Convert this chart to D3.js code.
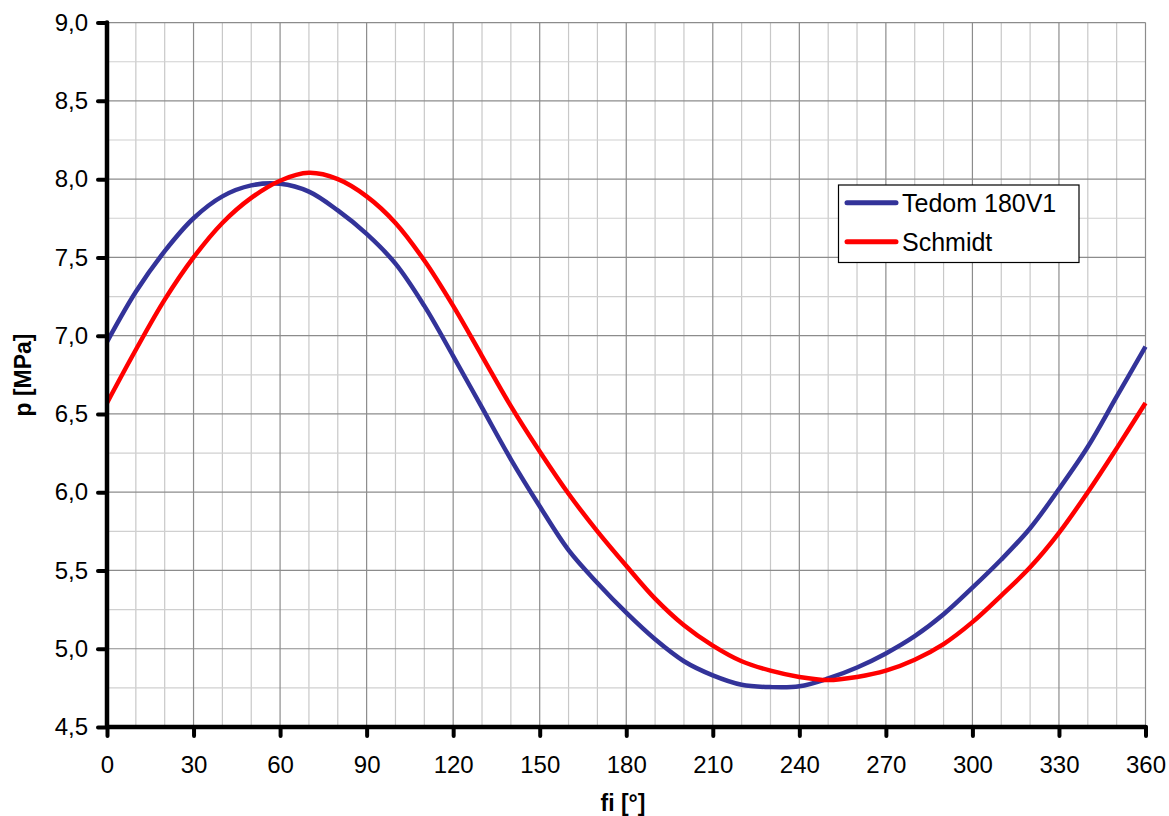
<!DOCTYPE html>
<html>
<head>
<meta charset="utf-8">
<script src="https://cdn.jsdelivr.net/npm/d3@7/dist/d3.min.js"></script>
<style>
  html, body { margin: 0; padding: 0; background: #fff; }
  svg { display: block; font-family: Arial, "Liberation Sans", sans-serif; }
</style>
</head>
<body>
<svg id="chart" width="1169" height="816"></svg>
<script>
// Crank angle samples [deg]
const angles = [0, 10, 20, 30, 40, 50, 60, 70, 80, 90, 100, 110, 120, 130, 140, 150, 160, 170, 180,
                190, 200, 210, 220, 230, 240, 250, 260, 270, 280, 290, 300, 310, 320, 330, 340, 350, 360];

// Pressure [MPa] – measured engine
const tedom = [6.96, 7.28, 7.54, 7.75, 7.89, 7.96, 7.97, 7.92, 7.80, 7.65, 7.46, 7.19, 6.87, 6.54, 6.21,
               5.91, 5.63, 5.42, 5.23, 5.06, 4.92, 4.83, 4.77, 4.755, 4.76, 4.81, 4.88, 4.97, 5.08, 5.22,
               5.39, 5.57, 5.77, 6.02, 6.29, 6.61, 6.93];

// Pressure [MPa] – Schmidt analysis
const schmidt = [6.57, 6.91, 7.23, 7.50, 7.72, 7.88, 7.99, 8.04, 8.00, 7.89, 7.72, 7.48, 7.19, 6.87, 6.55,
                 6.26, 5.99, 5.75, 5.53, 5.32, 5.15, 5.02, 4.92, 4.86, 4.82, 4.80, 4.82, 4.86, 4.93, 5.03,
                 5.17, 5.34, 5.52, 5.74, 6.00, 6.28, 6.57];

const xTicks = [0, 30, 60, 90, 120, 150, 180, 210, 240, 270, 300, 330, 360];
const yTicks = [4.5, 5.0, 5.5, 6.0, 6.5, 7.0, 7.5, 8.0, 8.5, 9.0];
const seriesNames = ["Tedom 180V1", "Schmidt"];
const seriesColors = ["#333399", "#ff0000"];

(function () {
  const svg = d3.select("#chart");
  const pLeft = 107, pRight = 1145.5, pTop = 22.6, pBottom = 727;

  const x = d3.scaleLinear().domain([0, 360]).range([pLeft, pRight]);
  const y = d3.scaleLinear().domain([4.5, 9.0]).range([pBottom, pTop]);

  // Grid: minor lines first, then major
  const minorX = d3.range(0, 361, 10).filter(v => v % 30 !== 0);
  const minorY = d3.range(4.5, 9.001, 0.25).filter(v => Math.abs((v * 2) % 1) > 0.01);

  const grid = svg.append("g");
  grid.selectAll("line.mx").data(minorX).join("line")
    .attr("x1", d => x(d)).attr("x2", d => x(d)).attr("y1", pTop).attr("y2", pBottom)
    .attr("stroke", "#c8c8c8").attr("stroke-width", 1.2);
  grid.selectAll("line.my").data(minorY).join("line")
    .attr("x1", pLeft).attr("x2", pRight).attr("y1", d => y(d)).attr("y2", d => y(d))
    .attr("stroke", "#d0d0d0").attr("stroke-width", 1.2);
  grid.selectAll("line.Mx").data(xTicks.slice(1)).join("line")
    .attr("x1", d => x(d)).attr("x2", d => x(d)).attr("y1", pTop).attr("y2", pBottom)
    .attr("stroke", "#8c8c8c").attr("stroke-width", 1.2);
  grid.selectAll("line.My").data(yTicks.slice(1)).join("line")
    .attr("x1", pLeft).attr("x2", pRight).attr("y1", d => y(d)).attr("y2", d => y(d))
    .attr("stroke", "#8c8c8c").attr("stroke-width", 1.2);

  // Curves
  const line = d3.line()
    .x((d, i) => x(angles[i]))
    .y(d => y(d))
    .curve(d3.curveCatmullRom);

  [tedom, schmidt].forEach((s, k) => {
    svg.append("path")
      .datum(s)
      .attr("d", line)
      .attr("fill", "none")
      .attr("stroke", seriesColors[k])
      .attr("stroke-width", 4.5)
      .attr("stroke-linejoin", "round");
  });

  // Axes
  const fmt = d => d.toFixed(1).replace(".", ",");

  const yAxis = svg.append("g")
    .attr("transform", `translate(${pLeft},0)`)
    .call(d3.axisLeft(y).tickValues(yTicks).tickSize(9).tickPadding(10).tickFormat(fmt));
  const xAxis = svg.append("g")
    .attr("transform", `translate(0,${pBottom})`)
    .call(d3.axisBottom(x).tickValues(xTicks).tickSize(9).tickPadding(20).tickFormat(d3.format("d")));

  [yAxis, xAxis].forEach(a => {
    a.select(".domain").remove();
    a.selectAll(".tick line").attr("stroke", "#000").attr("stroke-width", 4).attr("stroke-linecap", "round");
    a.selectAll(".tick text").attr("fill", "#000").style("font-size", "24px")
      .style("font-family", "Arial, 'Liberation Sans', sans-serif");
  });

  svg.append("line")
    .attr("x1", pLeft).attr("x2", pLeft).attr("y1", pTop).attr("y2", pBottom)
    .attr("stroke", "#000").attr("stroke-width", 4.5).attr("stroke-linecap", "round");
  svg.append("line")
    .attr("x1", pLeft).attr("x2", pRight).attr("y1", pBottom).attr("y2", pBottom)
    .attr("stroke", "#000").attr("stroke-width", 4.5).attr("stroke-linecap", "round");

  // Axis titles
  svg.append("text")
    .attr("x", 623).attr("y", 811)
    .attr("text-anchor", "middle")
    .style("font-size", "23px").style("font-weight", "bold")
    .text("fi [°]");
  svg.append("text")
    .attr("transform", "translate(31,375) rotate(-90)")
    .attr("text-anchor", "middle")
    .style("font-size", "23px").style("font-weight", "bold")
    .text("p [MPa]");

  // Legend
  const legend = svg.append("g");
  legend.append("rect")
    .attr("x", 838.5).attr("y", 185).attr("width", 240.5).attr("height", 77.5)
    .attr("fill", "#fff").attr("stroke", "#000").attr("stroke-width", 1.2);
  seriesNames.forEach((name, i) => {
    const ly = 202.7 + i * 39;
    legend.append("line")
      .attr("x1", 847).attr("x2", 896).attr("y1", ly).attr("y2", ly)
      .attr("stroke", seriesColors[i]).attr("stroke-width", 5).attr("stroke-linecap", "round");
    legend.append("text")
      .attr("x", 902).attr("y", ly + 9)
      .style("font-size", "25px")
      .text(name);
  });
})();
</script>
</body>
</html>
